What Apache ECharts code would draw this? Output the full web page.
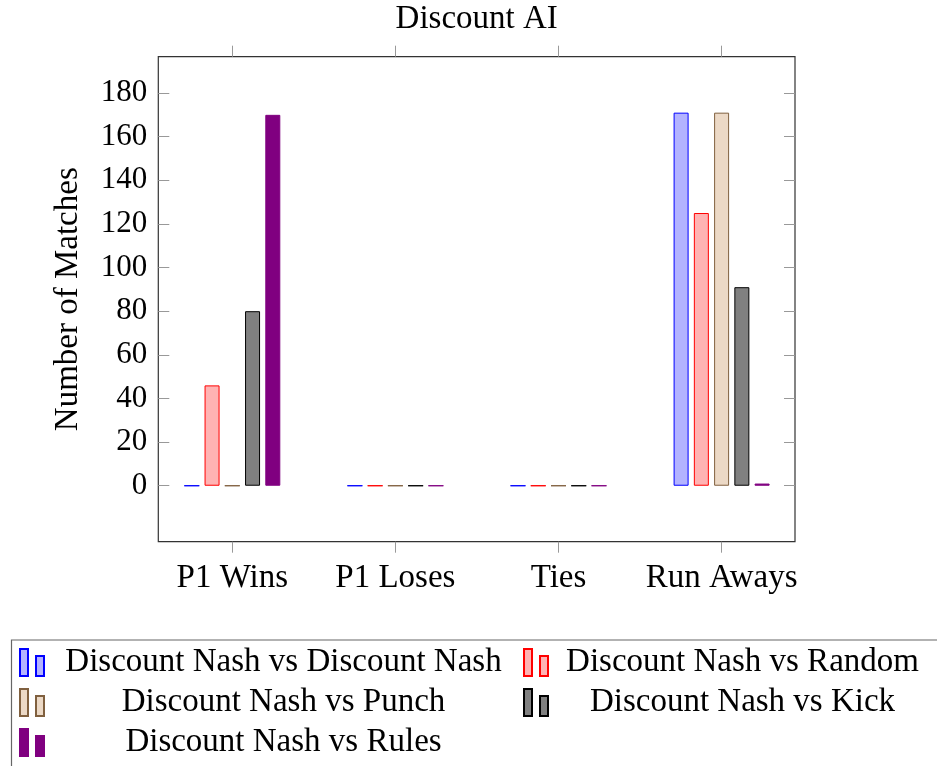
<!DOCTYPE html>
<html>
<head>
<meta charset="utf-8">
<script src="https://cdn.jsdelivr.net/npm/echarts@6/dist/echarts.min.js"></script>
<style>html,body{margin:0;padding:0;background:#fff}#c{width:937px;height:766px}</style>
</head>
<body>
<div id="c"></div>
<script>
const categories = ['P1 Wins', 'P1 Loses', 'Ties', 'Run Aways'];
const dnVsDn = [0, 0, 0, 171];
const dnVsRandom = [46, 0, 0, 125];
const dnVsPunch = [0, 0, 0, 171];
const dnVsKick = [80, 0, 0, 91];
const dnVsRules = [170, 0, 0, 1];
const yTicks = [0, 20, 40, 60, 80, 100, 120, 140, 160, 180];
const seriesNames = ['Discount Nash vs Discount Nash', 'Discount Nash vs Random', 'Discount Nash vs Punch', 'Discount Nash vs Kick', 'Discount Nash vs Rules'];
const seriesData = [dnVsDn, dnVsRandom, dnVsPunch, dnVsKick, dnVsRules];
const fills = ['#b3b3ff', '#ffb3b3', '#ecd9c6', '#808080', '#800080'];
const strokes = ['#0000ff', '#ff0000', '#80603f', '#000000', '#800080'];
const col1 = [seriesNames[0], seriesNames[2], seriesNames[4]];

const FONT = 'Liberation Serif';
const yMin = -25.65, yMax = 196.65;
const tickStyle = {color: '#999', width: 1};

const chart = echarts.init(document.getElementById('c'), null, {renderer: 'canvas'});
const option = {
  animation: false,
  backgroundColor: '#fff',
  title: {
    text: 'Discount AI', left: 476.7, top: 3, padding: 0, textAlign: 'center',
    textStyle: {fontFamily: FONT, fontSize: 33, fontWeight: 'normal', color: '#000'}
  },
  grid: [
    {left: 158.3, top: 56.7, width: 636.7, height: 485, show: true, borderColor: '#333', borderWidth: 1.2, backgroundColor: 'transparent', containLabel: false},
    {left: 150.75, top: 56.7, width: 652.4, height: 485, show: false, containLabel: false}
  ],
  xAxis: [
    {gridIndex: 0, type: 'value', min: -0.45, max: 3.45, show: false, axisLine: {onZero: false}},
    {gridIndex: 1, type: 'category', data: categories, position: 'bottom',
      axisLine: {show: false, onZero: false},
      axisTick: {show: true, alignWithLabel: true, length: 11, inside: false, lineStyle: tickStyle},
      axisLabel: {fontFamily: FONT, fontSize: 33, color: '#000', margin: 20, interval: 0}},
    {gridIndex: 1, type: 'category', data: categories, position: 'top',
      axisLine: {show: false, onZero: false},
      axisTick: {show: true, alignWithLabel: true, length: 11, inside: false, lineStyle: tickStyle},
      axisLabel: {show: false}}
  ],
  yAxis: [
    {gridIndex: 0, type: 'value', position: 'left', min: yMin, max: yMax,
      axisLine: {show: false, onZero: false}, splitLine: {show: false},
      axisTick: {show: true, inside: true, length: 11, lineStyle: tickStyle, customValues: yTicks},
      axisLabel: {fontFamily: FONT, fontSize: 31, color: '#000', margin: 11, customValues: yTicks},
      name: 'Number of Matches', nameLocation: 'middle', nameGap: 73,
      nameTextStyle: {fontFamily: FONT, fontSize: 33, color: '#000'}},
    {gridIndex: 0, type: 'value', position: 'right', min: yMin, max: yMax,
      axisLine: {show: false, onZero: false}, splitLine: {show: false},
      axisTick: {show: true, inside: true, length: 11, lineStyle: tickStyle, customValues: yTicks},
      axisLabel: {show: false}},
    {gridIndex: 1, type: 'value', min: yMin, max: yMax, show: false, splitLine: {show: false}, axisLine: {onZero: false}}
  ],
  legend: {
    left: 11.5, top: 640, orient: 'horizontal', width: 915,
    padding: [6, 20, 30, 7.5], itemGap: 7, itemWidth: 24, itemHeight: 27,
    borderColor: '#666', borderWidth: 1.2, backgroundColor: '#fff',
    icon: 'path://M0,0h8v27h-8zM16,7h8v20h-8z',
    data: seriesNames,
    formatter: function (name) { return '{' + (col1.indexOf(name) >= 0 ? 'a' : 'b') + '|' + name + '}'; },
    textStyle: {
      fontFamily: FONT, fontSize: 33, color: '#000',
      rich: {
        a: {width: 465, align: 'center', fontFamily: FONT, fontSize: 33, lineHeight: 32, color: '#000', padding: [0, 0, 0, 2]},
        b: {width: 375, align: 'center', fontFamily: FONT, fontSize: 33, lineHeight: 32, color: '#000', padding: [0, 0, 0, 2]}
      }
    }
  },
  series: seriesNames.map(function (n, i) {
    return {
      name: n, type: 'bar', xAxisIndex: 1, yAxisIndex: 2,
      data: seriesData[i], barWidth: 15, barGap: '35%',
      itemStyle: {color: fills[i], borderColor: strokes[i], borderWidth: 1}
    };
  })
};
chart.setOption(option);
</script>
</body>
</html>
